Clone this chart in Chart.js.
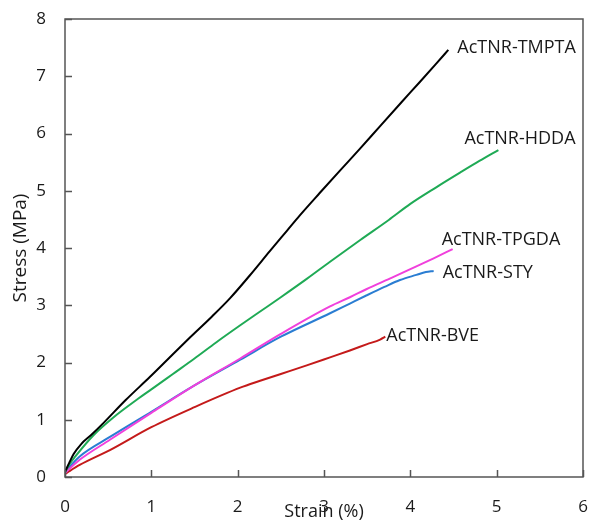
<!DOCTYPE html>
<html>
<head>
<meta charset="utf-8">
<script src="https://cdn.jsdelivr.net/npm/chart.js@4/dist/chart.umd.min.js"></script>
<style>
html,body{margin:0;padding:0;background:#fff;}
#wrap{width:589px;height:526px;position:relative;}
</style>
</head>
<body>
<div id="wrap"><canvas id="c" width="589" height="526"></canvas></div>
<script>
// ---- Data ----
const seriesNames = ['AcTNR-TMPTA','AcTNR-HDDA','AcTNR-TPGDA','AcTNR-STY','AcTNR-BVE'];

const tmptaStrain = [0, 0.05, 0.10, 0.19, 0.30, 0.45, 0.70, 0.985, 1.20, 1.45, 1.70, 1.91, 2.14, 2.37, 2.57, 2.72, 2.95, 3.19, 3.42, 3.65, 3.90, 4.11, 4.30, 4.44];
const tmptaStress = [0.09, 0.25, 0.40, 0.58, 0.73, 0.95, 1.34, 1.75, 2.07, 2.44, 2.80, 3.12, 3.52, 3.94, 4.30, 4.57, 4.96, 5.36, 5.74, 6.13, 6.55, 6.90, 7.22, 7.46];

const hddaStrain = [0, 0.05, 0.12, 0.33, 0.56, 0.85, 1.00, 1.25, 1.50, 1.75, 2.03, 2.26, 2.50, 2.80, 3.07, 3.42, 3.75, 4.00, 4.30, 4.58, 4.80, 5.02];
const hddaStress = [0.08, 0.22, 0.36, 0.73, 1.04, 1.37, 1.53, 1.80, 2.07, 2.35, 2.65, 2.89, 3.14, 3.46, 3.76, 4.14, 4.49, 4.77, 5.06, 5.32, 5.52, 5.71];

const tpgdaStrain = [0, 0.05, 0.17, 0.52, 1.00, 1.50, 2.03, 2.50, 3.07, 3.30, 3.49, 3.80, 4.07, 4.27, 4.49];
const tpgdaStress = [0.07, 0.14, 0.30, 0.65, 1.12, 1.60, 2.07, 2.50, 2.98, 3.14, 3.28, 3.49, 3.68, 3.82, 3.98];

const styStrain = [0, 0.05, 0.17, 0.52, 1.00, 1.50, 2.03, 2.50, 3.07, 3.30, 3.49, 3.70, 3.88, 4.07, 4.18, 4.27];
const styStress = [0.07, 0.17, 0.36, 0.70, 1.14, 1.60, 2.05, 2.45, 2.86, 3.03, 3.17, 3.32, 3.44, 3.53, 3.58, 3.60];

const bveStrain = [0, 0.05, 0.17, 0.52, 1.00, 1.50, 2.03, 2.26, 2.50, 2.80, 3.07, 3.30, 3.50, 3.65, 3.71];
const bveStress = [0.05, 0.10, 0.21, 0.47, 0.87, 1.22, 1.56, 1.68, 1.80, 1.95, 2.09, 2.21, 2.32, 2.40, 2.45];

const xTicks = [0, 1, 2, 3, 4, 5, 6];
const yTicks = [0, 1, 2, 3, 4, 5, 6, 7, 8];

// ---- Styling ----
const colors = ['#000000', '#1faa55', '#f040dc', '#2a7dd2', '#c41a1a'];
const labelOffsets = [[9, -2], [-34, -11], [-11, -9], [9, 2], [1, -1]];
const FONT = "'Open Sans', 'DejaVu Sans', sans-serif";

function pts(xs, ys) { return xs.map((x, i) => ({x: x, y: ys[i]})); }
const allX = [tmptaStrain, hddaStrain, tpgdaStrain, styStrain, bveStrain];
const allY = [tmptaStress, hddaStress, tpgdaStress, styStress, bveStress];

const datasets = seriesNames.map((n, i) => ({
  label: n,
  data: pts(allX[i], allY[i]),
  borderColor: colors[i],
  backgroundColor: colors[i],
  borderWidth: 2,
  pointRadius: 0,
  showLine: true,
  cubicInterpolationMode: 'monotone',
  fill: false
}));

const framePlugin = {
  id: 'frame',
  afterDatasetsDraw(chart) {
    const {ctx, chartArea: a, scales} = chart;
    ctx.save();
    ctx.strokeStyle = '#555555';
    ctx.lineWidth = 1.5;
    ctx.beginPath();
    xTicks.forEach(v => {
      const px = Math.round(scales.x.getPixelForValue(v)) + 0.5;
      ctx.moveTo(px, a.bottom); ctx.lineTo(px, a.bottom - 7);
    });
    yTicks.forEach(v => {
      const py = Math.round(scales.y.getPixelForValue(v)) + 0.5;
      ctx.moveTo(a.left, py); ctx.lineTo(a.left + 7, py);
    });
    ctx.stroke();
    ctx.strokeRect(a.left, a.top, a.right - a.left, a.bottom - a.top);
    ctx.fillStyle = '#1a1a1a';
    ctx.font = "18px " + FONT;
    ctx.textAlign = 'left';
    ctx.textBaseline = 'middle';
    chart.data.datasets.forEach((ds, i) => {
      const last = ds.data[ds.data.length - 1];
      const px = scales.x.getPixelForValue(last.x);
      const py = scales.y.getPixelForValue(last.y);
      ctx.fillText(ds.label, px + labelOffsets[i][0], py + labelOffsets[i][1]);
    });
    ctx.restore();
  }
};

new Chart(document.getElementById('c'), {
  type: 'scatter',
  data: {datasets: datasets},
  options: {
    responsive: false,
    animation: false,
    devicePixelRatio: 1,
    layout: {padding: {top: 19, right: 6, left: 0, bottom: 0}},
    plugins: {legend: {display: false}, tooltip: {enabled: false}},
    scales: {
      x: {
        type: 'linear', min: 0, max: 6,
        afterBuildTicks: s => { s.ticks = xTicks.map(v => ({value: v})); },
        afterFit: s => { s.height = 49; s.paddingLeft = 0; s.paddingRight = 0; },
        grid: {display: false, drawTicks: false},
        border: {display: false},
        ticks: {color: '#1a1a1a', font: {family: FONT, size: 17}, padding: 20, maxRotation: 0},
        title: {display: true, text: 'Strain (%)', color: '#1a1a1a', font: {family: FONT, size: 18}, padding: {top: 0, bottom: 3}}
      },
      y: {
        type: 'linear', min: 0, max: 8,
        afterBuildTicks: s => { s.ticks = yTicks.map(v => ({value: v})); },
        afterFit: s => { s.width = 65; s.paddingTop = 0; s.paddingBottom = 0; },
        grid: {display: false, drawTicks: false},
        border: {display: false},
        ticks: {color: '#1a1a1a', font: {family: FONT, size: 17}, padding: 19},
        title: {display: true, text: 'Stress (MPa)', color: '#1a1a1a', font: {family: FONT, size: 19}, padding: {top: 9, bottom: 0}}
      }
    }
  },
  plugins: [framePlugin]
});
</script>
</body>
</html>
